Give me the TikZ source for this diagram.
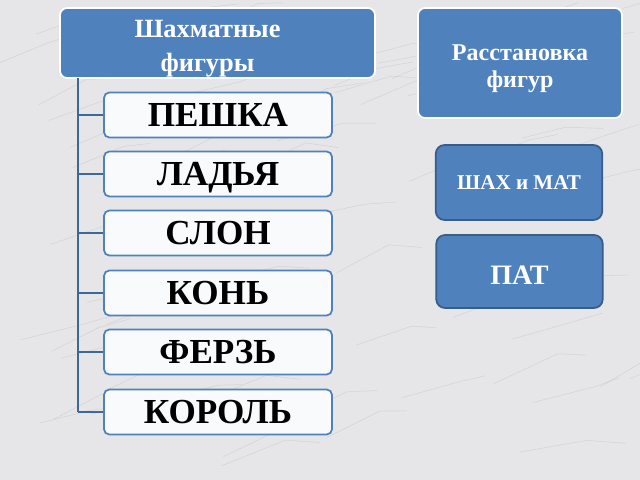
\documentclass[tikz,border=0pt]{standalone}
\usepackage{fontspec}
\setmainfont{Liberation Serif}
\usetikzlibrary{positioning}

\definecolor{figblue}{HTML}{4F81BD}
\definecolor{figdark}{HTML}{385D8A}
\definecolor{marble}{HTML}{E6E6E8}
\definecolor{vein}{HTML}{B8B8BC}

\begin{document}
\begin{tikzpicture}[x=0.02cm,y=-0.02cm,
   headbox/.style={draw=white,line width=1pt,fill=figblue,rounded corners=4pt,inner sep=0pt},
   sidebox/.style={draw=figdark,line width=1pt,fill=figblue,rounded corners=5pt,
     inner sep=0pt,minimum width=3.33cm},
   boxtext/.style={text=white,font=\bfseries,align=center,inner sep=0pt},
   piecebox/.style={draw=figblue,line width=1pt,fill=white!96!figblue,rounded corners=3pt,
     font=\fontsize{20}{22}\selectfont\bfseries,inner sep=0pt,text depth=0pt,
     minimum width=4.56cm,minimum height=0.9cm},
   link/.style={draw=figblue!80!black,line width=1.1pt}]

   % background
   \fill[marble] (0,0) rectangle (640,480);
   \useasboundingbox (0,0) rectangle (640,480);
   \pgfmathsetseed{7}
   \foreach \i in {1,...,70}{
     \pgfmathsetmacro{\xa}{rnd*640}
     \pgfmathsetmacro{\ya}{rnd*480}
     \draw[vein,opacity=0.4,line width=0.3pt]
       (\xa,\ya) -- ++(40+rnd*30,-10-rnd*20) -- ++(20+rnd*20,5-rnd*15);
   }

   % header boxes
   \node[headbox,minimum width=6.3cm,minimum height=1.4cm,
     label={[boxtext,xshift=-5.7pt,yshift=-3.4pt,
       font=\fontsize{15}{19.3}\selectfont\bfseries]center:Шахматные\\фигуры}]
     (shapka) at (217.5,43) {};
   \node[headbox,minimum width=4.08cm,minimum height=2.2cm,
     label={[boxtext,yshift=-3.4pt,
       font=\fontsize{13.7}{15.3}\selectfont\bfseries]center:Расстановка\\фигур}]
     (rasst) at (520,63) {};

   % right boxes
   \node[sidebox,minimum height=1.5cm,
     label={[boxtext,font=\fontsize{12}{14}\selectfont\bfseries]center:ШАХ и МАТ}]
     (shah) at (519,182.5) {};
   \node[sidebox,minimum height=1.46cm,
     label={[boxtext,yshift=-2pt,font=\fontsize{16}{18}\selectfont\bfseries]center:ПАТ}]
     (pat) at (519.5,271.5) {};

   % pieces
   \coordinate (trunk) at (78,78);
   \foreach \name/\txt/\y in {peshka/ПЕШКА/115, ladya/ЛАДЬЯ/174, slon/СЛОН/233,
                              kon/КОНЬ/293, ferz/ФЕРЗЬ/352, korol/КОРОЛЬ/412}{
     \node[piecebox] (\name) at (218,\y) {\txt};
     \draw[link] (trunk |- \name.west) -- (\name.west);
   }
   \draw[link] (trunk) -- (trunk |- korol.west);

\end{tikzpicture}
\end{document}
